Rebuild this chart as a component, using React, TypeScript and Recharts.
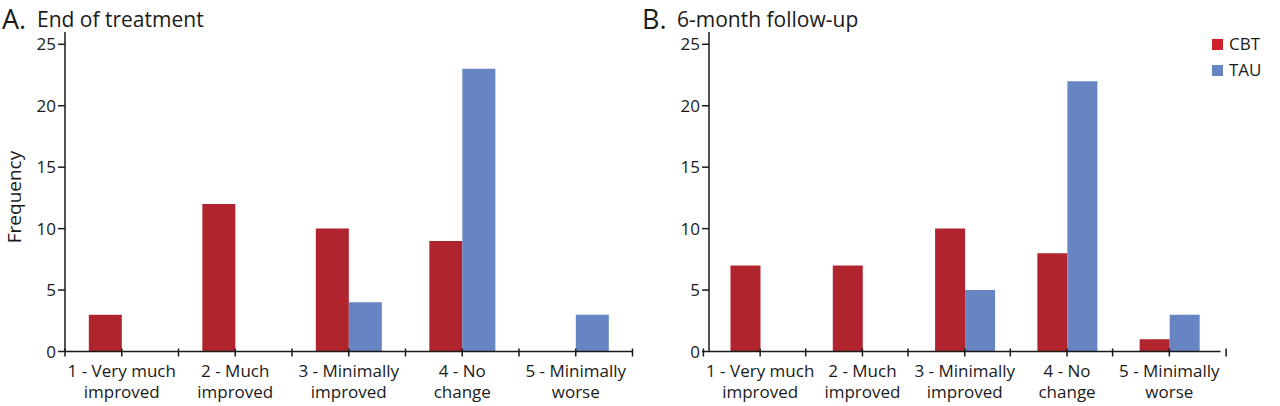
import React from "react"
import { BarChart, Bar, XAxis, YAxis, Legend } from "recharts"

const categories = ["1", "2", "3", "4", "5"]
const labelLines = [
  ["1 - Very much", "improved"],
  ["2 - Much", "improved"],
  ["3 - Minimally", "improved"],
  ["4 - No", "change"],
  ["5 - Minimally", "worse"],
]
const cbtEnd = [3, 12, 10, 9, 0]
const tauEnd = [0, 0, 4, 23, 3]
const cbtFollow = [7, 7, 10, 8, 1]
const tauFollow = [0, 0, 5, 22, 3]
const yTicks = [0, 5, 10, 15, 20, 25]

const RED = "#b0242d"
const BLUE = "#6784c3"
const INK = "#1a1a1a"
const FONT = "'Open Sans', sans-serif"

const toRows = (cbt: number[], tau: number[]) =>
  categories.map((c, i) => ({ cat: c, CBT: cbt[i], TAU: tau[i] }))

function makeTick(halfBand: number) {
  return (props: any) => {
    const { x, y, index } = props
    const lines = labelLines[index] || []
    return (
      <g>
        <line x1={x} x2={x} y1={y - 3} y2={y + 5} stroke={INK} strokeWidth={1.5} />
        <line x1={x - halfBand} x2={x - halfBand} y1={y - 3} y2={y + 5} stroke={INK} strokeWidth={1.5} />
        {index === categories.length - 1 && (
          <line x1={x + halfBand} x2={x + halfBand} y1={y - 3} y2={y + 5} stroke={INK} strokeWidth={1.5} />
        )}
        <text x={x} y={y + 25} textAnchor="middle" fontSize={17} fill={INK} fontFamily={FONT}>
          {lines[0]}
        </text>
        <text x={x} y={y + 46} textAnchor="middle" fontSize={17} fill={INK} fontFamily={FONT}>
          {lines[1]}
        </text>
      </g>
    )
  }
}

const legendContent = () => (
  <div style={{ fontFamily: FONT, fontSize: 17, color: INK, lineHeight: "26px" }}>
    {[
      ["CBT", "#d0202e"],
      ["TAU", BLUE],
    ].map(([name, col]) => (
      <div key={name} style={{ display: "flex", alignItems: "center" }}>
        <span style={{ display: "inline-block", width: 11, height: 11, background: col, marginRight: 6 }} />
        {name}
      </div>
    ))}
  </div>
)

type PanelProps = {
  left: number
  letter: string
  title: string
  cbt: number[]
  tau: number[]
  yAxisWidth: number
  rightMargin: number
  showYLabel?: boolean
  showLegend?: boolean
}

function Panel({ left, letter, title, cbt, tau, yAxisWidth, rightMargin, showYLabel, showLegend }: PanelProps) {
  const W = 640
  const H = 406
  const plotW = W - yAxisWidth - rightMargin
  const halfBand = plotW / categories.length / 2
  return (
    <div style={{ position: "absolute", left, top: 0, width: W, height: H }}>
      <svg width={W} height={40} style={{ position: "absolute", left: 0, top: 0 }}>
        <text x={2} y={29} fontSize={27} fill={INK} fontFamily={FONT}>
          {letter}
        </text>
        <text x={37} y={27} fontSize={21} fill={INK} fontFamily={FONT}>
          {title}
        </text>
      </svg>
      <BarChart
        width={W}
        height={H}
        data={toRows(cbt, tau)}
        margin={{ top: 32, right: rightMargin, bottom: 0, left: 0 }}
        barCategoryGap="21%"
        barGap={0}
      >
        <XAxis
          dataKey="cat"
          height={54.5}
          tickSize={0}
          tickMargin={0}
          tickLine={false}
          interval={0}
          tick={makeTick(halfBand)}
          axisLine={{ stroke: INK, strokeWidth: 1.5 }}
        />
        <YAxis
          width={yAxisWidth}
          domain={[0, 26]}
          ticks={yTicks}
          tickSize={7}
          tickMargin={2}
          axisLine={{ stroke: INK, strokeWidth: 1.5 }}
          tickLine={{ stroke: INK, strokeWidth: 1.5 }}
          tick={{ fill: INK, fontSize: 17, fontFamily: FONT }}
          label={
            showYLabel
              ? () => (
                  <text
                    x={14}
                    y={197}
                    transform="rotate(-90 14 197)"
                    textAnchor="middle"
                    dominantBaseline="central"
                    fontSize={19}
                    fill={INK}
                    fontFamily={FONT}
                  >
                    Frequency
                  </text>
                )
              : undefined
          }
        />
        {showLegend && (
          <Legend
            layout="horizontal"
            verticalAlign="middle"
            align="right"
            content={legendContent}
            wrapperStyle={{ top: 31, right: 12, left: "auto", width: 56 }}
          />
        )}
        <Bar dataKey="CBT" fill={RED} isAnimationActive={false} />
        <Bar dataKey="TAU" fill={BLUE} isAnimationActive={false} />
      </BarChart>
    </div>
  )
}

export default function App() {
  return (
    <div style={{ position: "absolute", left: 0, top: 0, width: 1280, height: 406, background: "#fff" }}>
      <Panel left={0} letter="A." title="End of treatment" cbt={cbtEnd} tau={tauEnd} yAxisWidth={65} rightMargin={7.5} showYLabel />
      <Panel left={640} letter="B." title="6-month follow-up" cbt={cbtFollow} tau={tauFollow} yAxisWidth={69} rightMargin={3.5} showLegend />
    </div>
  )
}
